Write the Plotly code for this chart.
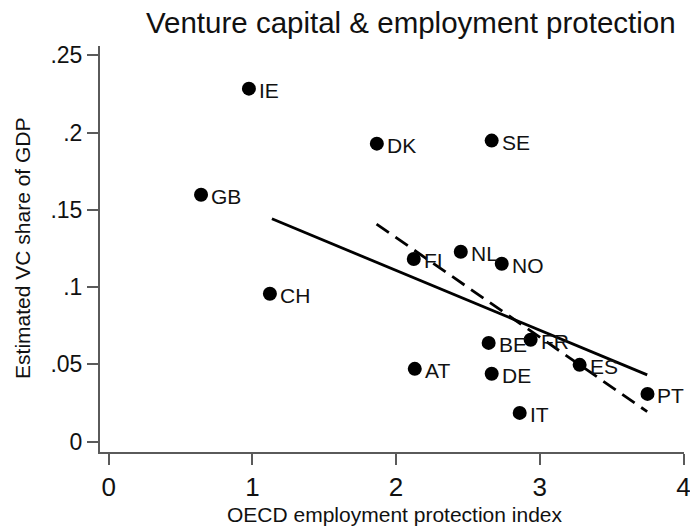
import plotly.graph_objects as go

# Country-level observations
countries = ["IE", "DK", "SE", "GB", "FI", "NL", "NO", "CH", "BE", "FR", "ES", "PT", "AT", "DE", "IT"]
epl_index = [0.976, 1.866, 2.665, 0.643, 2.123, 2.450, 2.735, 1.122, 2.644, 2.936, 3.277, 3.749, 2.130, 2.665, 2.860]
vc_share = [0.2284, 0.1928, 0.1948, 0.1598, 0.1182, 0.1229, 0.1151, 0.0957, 0.0639, 0.0659, 0.0497, 0.0309, 0.0471, 0.0439, 0.0186]

# Fitted lines (endpoints)
fit_all_x = [1.136, 3.747]
fit_all_y = [0.1442, 0.0432]
fit_sub_x = [1.864, 3.747]
fit_sub_y = [0.1408, 0.0194]

x_ticks = [0, 1, 2, 3, 4]
y_ticks = [0, 0.05, 0.1, 0.15, 0.2, 0.25]
y_tick_text = ["0", ".05", ".1", ".15", ".2", ".25"]

FONT = "Liberation Sans, Arial, Helvetica, sans-serif"
INK = "#111"
AXIS = "#5a5a5a"

fig = go.Figure()
fig.add_trace(go.Scatter(
    x=fit_all_x, y=fit_all_y, mode="lines",
    line=dict(color="black", width=2.8), showlegend=False,
))
fig.add_trace(go.Scatter(
    x=fit_sub_x, y=fit_sub_y, mode="lines",
    line=dict(color="black", width=2.8, dash="15px,8px"), showlegend=False,
))
fig.add_trace(go.Scatter(
    x=epl_index, y=vc_share, mode="markers",
    marker=dict(size=14, color="black"),
    showlegend=False, cliponaxis=False,
))

# Country labels to the right of each marker
annotations = [
    dict(x=cx, y=cy, text=name, xref="x", yref="y", xanchor="left", yanchor="middle",
         xshift=8, yshift=-2, showarrow=False,
         font=dict(family=FONT, size=21, color=INK))
    for name, cx, cy in zip(countries, epl_index, vc_share)
]

annotations += [
    dict(text="Venture capital & employment protection", xref="paper", yref="paper",
         x=0.99, y=1.057, xanchor="right", yanchor="middle", showarrow=False,
         font=dict(family=FONT, size=29.5, color=INK)),
    dict(text="OECD employment protection index", xref="paper", yref="paper",
         x=0.505, y=-0.155, xanchor="center", yanchor="middle", showarrow=False,
         font=dict(family=FONT, size=21, color=INK)),
    dict(text="Estimated VC share of GDP", xref="paper", yref="paper",
         x=-0.134, y=0.502, xanchor="center", yanchor="middle", textangle=-90,
         showarrow=False, font=dict(family=FONT, size=21, color=INK)),
]

axis_common = dict(
    showgrid=False, zeroline=False, showline=True, linecolor=AXIS, linewidth=2,
    ticks="outside", ticklen=11, tickcolor=AXIS, tickwidth=1.8,
    ticklabeloverflow="allow", automargin=False,
)

fig.update_layout(
    width=690, height=531,
    margin=dict(l=100, r=6, t=46, b=79),
    paper_bgcolor="white", plot_bgcolor="white",
    font=dict(family=FONT),
    xaxis=dict(range=[-0.06, 4.003], tickvals=x_ticks, **axis_common,
               tickfont=dict(family=FONT, size=26, color=INK)),
    yaxis=dict(range=[-0.0067, 0.256], tickvals=y_ticks, ticktext=y_tick_text, **axis_common,
               tickfont=dict(family=FONT, size=23, color=INK)),
    annotations=annotations,
)

fig.write_html("out.html")
